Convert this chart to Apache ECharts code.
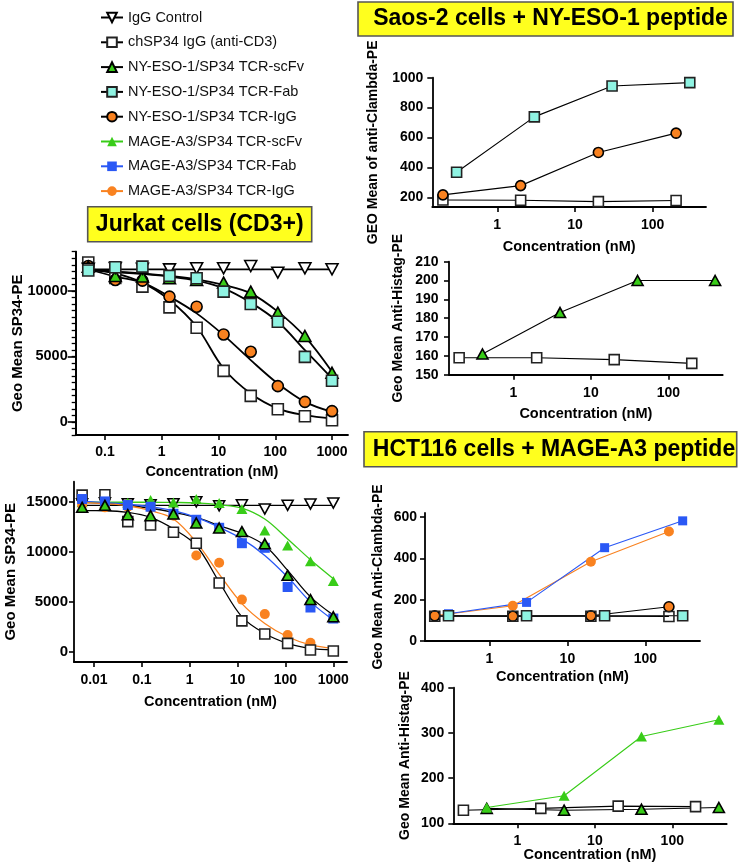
<!DOCTYPE html>
<html>
<head>
<meta charset="utf-8">
<script src="https://cdn.jsdelivr.net/npm/echarts@6/dist/echarts.min.js"></script>
<style>html,body{margin:0;padding:0;background:#fff}#c{width:738px;height:867px}</style>
</head>
<body>
<div id="c"></div>
<script>
// ---------------- DATA ----------------
const seriesNames = ['IgG Control','chSP34 IgG (anti-CD3)','NY-ESO-1/SP34 TCR-scFv','NY-ESO-1/SP34 TCR-Fab','NY-ESO-1/SP34 TCR-IgG','MAGE-A3/SP34 TCR-scFv','MAGE-A3/SP34 TCR-Fab','MAGE-A3/SP34 TCR-IgG'];
const panelTitles = ['Jurkat cells (CD3+)','Saos-2 cells + NY-ESO-1 peptide','HCT116 cells + MAGE-A3 peptide'];

// Jurkat, upper panel (concentration nM)
const jurkat1Conc = [0.0508, 0.152, 0.457, 1.37, 4.12, 12.3, 37.0, 111, 333, 1000];
const j1IgG      = [11700, 11750, 11700, 11650, 11730, 11730, 11910, 11400, 11730, 11660];
const j1chSP34   = [12170, 11000, 10330, 8750, 7190, 3900, 1990, 970, 430, 130];
const j1NyScfv   = [11860, 11150, 11100, 10970, 10840, 10640, 9950, 8340, 6560, 3750];
const j1NyFab    = [11560, 11810, 11860, 11150, 10970, 9950, 9010, 7650, 4970, 3140];
const j1NyIgG    = [11910, 10840, 10790, 9570, 8800, 6680, 5360, 2730, 1530, 820];
// fitted curves read at the same concentrations
const j1FitIgG    = [11650, 11650, 11650, 11650, 11650, 11650, 11650, 11650, 11650, 11650];
const j1FitChSP34 = [11660, 11350, 10640, 9310, 7270, 4080, 2170, 1020, 510, 255];
const j1FitNyScfv = [11660, 11480, 11350, 11150, 10890, 10460, 9820, 8420, 6510, 3830];
const j1FitNyFab  = [11660, 11450, 11300, 11100, 10790, 10200, 9110, 7650, 5480, 3320];
const j1FitNyIgG  = [11660, 11100, 10640, 9570, 8290, 6630, 4720, 2930, 1530, 765];

// Jurkat, lower panel
const jurkat2Conc = [0.00565, 0.0169, 0.0508, 0.152, 0.457, 1.37, 4.12, 12.3, 37.0, 111, 333, 1000];
const j2IgG      = [14800, 14900, 14800, 14700, 14800, 15000, 14600, 14700, 14270, 14640, 14770, 14870];
const j2chSP34   = [15660, 15700, 13010, 12680, 11950, 10860, 6890, 3110, 1790, 860, 200, 100];
const j2NyScfv   = [14440, 14640, 13710, 13610, 13780, 12880, 12380, 12020, 10800, 7650, 5230, 3510];
const j2MgScfv   = [14950, 14900, 14900, 15170, 14930, 15270, 14870, 14270, 12120, 10630, 9070, 7090];
const j2MgFab    = [15270, 15030, 14670, 14500, 13800, 13200, 12400, 10860, 10400, 6490, 4440, 3340];
const j2MgIgG    = [14700, 14440, 14500, 14400, 13610, 9640, 8910, 5230, 3780, 1690, 930, 100];
const j2FitIgG    = [14640, 14640, 14640, 14640, 14640, 14640, 14640, 14640, 14640, 14640, 14640, 14640];
const j2FitChSP34 = [14110, 14100, 13940, 13440, 12290, 10630, 6990, 3510, 1850, 860, 360, 200];
const j2FitNyScfv = [14950, 14850, 14650, 14350, 13940, 13440, 12620, 11850, 10630, 8150, 5500, 3680];
const j2FitMgScfv = [14950, 14950, 14950, 14950, 14930, 14880, 14700, 14370, 13280, 11290, 9210, 7320];
const j2FitMgFab  = [15050, 14900, 14750, 14500, 14110, 13440, 12450, 11290, 9640, 7480, 5000, 3180];
const j2FitMgIgG  = [14940, 14800, 14600, 14110, 13280, 10960, 7780, 4830, 2850, 1520, 700, 360];

// right-hand panels
const lowConc  = [0.2, 2, 20, 200];
const fabConc  = [0.3, 3, 30, 300];
const scfvConc = [0.4, 4, 40, 400];
// Saos-2 anti-Clambda
const saosClNyFab  = [367, 738, 944, 967];
const saosClNyIgG  = [216, 278, 500, 629];
const saosClChSP34 = [182, 180, 171, 178];
// Saos-2 anti-Histag
const saosHiNyScfv = [161, 183, 200, 200];
const saosHiChSP34 = [159, 159, 158, 156];
// HCT116 anti-Clambda
const hctClMgFab  = [132, 187, 452, 582];
const hctClMgIgG  = [122, 171, 384, 530];
const hctClChSP34 = [120, 120, 120, 119];
const hctClNyIgG  = [122, 120, 122, 166];
const hctClNyFab  = [122, 122, 122, 122];
// HCT116 anti-Histag
const hctHiMgScfv  = [135, 161, 292, 329];
const hctHiNyScfv  = [133, 129, 131, 135];
const hctHiChSP34  = [129, 133, 138, 137];

// tick labels
const xTicksA = [0.1, 1, 10, 100, 1000];
const xTicksB = [0.01, 0.1, 1, 10, 100, 1000];
const xTicksR = [1, 10, 100];
const yTicksA = [0, 5000, 10000];
const yTicksB = [0, 5000, 10000, 15000];
const yTicksC = [200, 400, 600, 800, 1000];
const yTicksE = [0, 200, 400, 600];

// ---------------- STYLE ----------------
const FONT = 'Liberation Sans, Arial, Helvetica, sans-serif';
const DOWN = 'path://M0,0L10,0L5,9Z';
const GREEN = '#38cc18', CYAN = '#8ff3e2', ORANGE = '#f98220', BLUE = '#2a58f5';
const ST = {};
ST[seriesNames[0]] = {symbol: DOWN, fill: '#fff', border: '#000', line: '#000'};
ST[seriesNames[1]] = {symbol: 'rect', fill: '#fff', border: '#222', line: '#000'};
ST[seriesNames[2]] = {symbol: 'triangle', fill: GREEN, border: '#000', line: '#000'};
ST[seriesNames[3]] = {symbol: 'rect', fill: CYAN, border: '#222', line: '#000'};
ST[seriesNames[4]] = {symbol: 'circle', fill: ORANGE, border: '#000', line: '#000'};
ST[seriesNames[5]] = {symbol: 'triangle', fill: GREEN, border: null, line: GREEN};
ST[seriesNames[6]] = {symbol: 'rect', fill: BLUE, border: null, line: BLUE};
ST[seriesNames[7]] = {symbol: 'circle', fill: ORANGE, border: null, line: ORANGE};

function pairs(xs, ys) { return xs.map((x, i) => [x, ys[i]]); }
function symOpts(name, size, fillOverride) {
  const st = ST[name];
  return {
    symbol: st.symbol,
    symbolSize: st.symbol === DOWN ? [size + 1, size] : (st.symbol === 'triangle' ? [size + 1, size] : size),
    itemStyle: {color: fillOverride || st.fill, borderColor: st.border || st.fill, borderWidth: st.border ? 1.6 : 0, opacity: 1}
  };
}
function scatter(name, idx, xs, ys, size, z) {
  return Object.assign({type: 'scatter', name, xAxisIndex: idx, yAxisIndex: idx, data: pairs(xs, ys), z: z || 3, silent: true}, symOpts(name, size));
}
function curve(name, idx, xs, ys, w) {
  return {type: 'line', name, xAxisIndex: idx, yAxisIndex: idx, data: pairs(xs, ys), smooth: 0.35, showSymbol: false, symbol: 'none', z: 2, silent: true,
    lineStyle: {color: ST[name].line, width: w}};
}
function linked(name, idx, xs, ys, size, fillOverride) {
  return Object.assign({type: 'line', name, xAxisIndex: idx, yAxisIndex: idx, data: pairs(xs, ys), z: 3, silent: true,
    showSymbol: true, lineStyle: {color: ST[name].line, width: 1.1}}, symOpts(name, size, fillOverride));
}

const txt = {fontFamily: FONT, fontWeight: 'bold', color: '#000'};
function fmtLog(v) { return v >= 1 ? String(Math.round(v)) : String(+Number(v).toPrecision(1)); }
function fmtVal(v) { return String(v); }
function xLog(idx, min, max, ticks, margin, gap) {
  return {type: 'log', logBase: 10, gridIndex: idx, min, max,
    axisLine: {show: true, onZero: false, lineStyle: {color: '#000', width: 1.8}},
    axisTick: {show: true, customValues: ticks, length: 5, lineStyle: {color: '#000', width: 1.6}},
    axisLabel: Object.assign({customValues: ticks, formatter: fmtLog, fontSize: 14, margin}, txt),
    minorTick: {show: false}, splitLine: {show: false},
    name: 'Concentration (nM)', nameLocation: 'middle', nameGap: gap, nameMoveOverlap: false,
    nameTextStyle: Object.assign({fontSize: 14.5}, txt)};
}
function yVal(idx, min, max, ticks, interval, margin, name, gap, tickLen) {
  const a = {type: 'value', gridIndex: idx, min, max, position: 'left',
    axisLine: {show: true, onZero: false, lineStyle: {color: '#000', width: 1.8}},
    axisTick: {show: true, length: tickLen || 5, lineStyle: {color: '#000', width: 1.6}},
    axisLabel: Object.assign({fontSize: 14, margin, formatter: fmtVal}, txt),
    splitLine: {show: false},
    name, nameLocation: 'middle', nameGap: gap, nameRotate: 90, nameMoveOverlap: false,
    nameTextStyle: Object.assign({fontSize: 14}, txt)};
  if (interval) { a.interval = interval; } else { a.axisTick.customValues = ticks; a.axisLabel.customValues = ticks; }
  return a;
}

const N = seriesNames;
const series = [];
// legend-only series
N.forEach(n => series.push(Object.assign({type: 'line', name: n, xAxisIndex: 0, yAxisIndex: 0, data: [],
  lineStyle: {color: ST[n].line, width: 1.6}}, symOpts(n, 11))));

// Panel A (Jurkat upper)
series.push(curve(N[0], 0, jurkat1Conc, j1FitIgG, 1.8));
series.push(curve(N[1], 0, jurkat1Conc, j1FitChSP34, 1.8));
series.push(curve(N[4], 0, jurkat1Conc, j1FitNyIgG, 1.8));
series.push(curve(N[2], 0, jurkat1Conc, j1FitNyScfv, 1.8));
series.push(curve(N[3], 0, jurkat1Conc, j1FitNyFab, 1.8));
series.push(scatter(N[1], 0, jurkat1Conc, j1chSP34, 11, 3));
series.push(scatter(N[4], 0, jurkat1Conc, j1NyIgG, 11, 4));
series.push(scatter(N[2], 0, jurkat1Conc, j1NyScfv, 11, 5));
series.push(scatter(N[0], 0, jurkat1Conc, j1IgG, 11, 5));
series.push(scatter(N[3], 0, jurkat1Conc, j1NyFab, 11, 6));

// Panel B (Jurkat lower)
series.push(curve(N[0], 1, jurkat2Conc, j2FitIgG, 1.3));
series.push(curve(N[1], 1, jurkat2Conc, j2FitChSP34, 1.3));
series.push(curve(N[2], 1, jurkat2Conc, j2FitNyScfv, 1.3));
series.push(curve(N[5], 1, jurkat2Conc, j2FitMgScfv, 1.3));
series.push(curve(N[6], 1, jurkat2Conc, j2FitMgFab, 1.3));
series.push(curve(N[7], 1, jurkat2Conc, j2FitMgIgG, 1.3));
series.push(scatter(N[0], 1, jurkat2Conc, j2IgG, 10, 3));
series.push(scatter(N[5], 1, jurkat2Conc, j2MgScfv, 10, 3));
series.push(scatter(N[7], 1, jurkat2Conc, j2MgIgG, 10, 4));
series.push(scatter(N[1], 1, jurkat2Conc, j2chSP34, 10, 4));
series.push(scatter(N[6], 1, jurkat2Conc, j2MgFab, 10, 4));
series.push(scatter(N[2], 1, jurkat2Conc, j2NyScfv, 10, 5));

// Panel C (Saos-2 anti-Clambda)
series.push(linked(N[1], 2, lowConc, saosClChSP34, 10));
series.push(linked(N[4], 2, lowConc, saosClNyIgG, 10));
series.push(linked(N[3], 2, fabConc, saosClNyFab, 10));
// Panel D (Saos-2 anti-Histag)
series.push(linked(N[1], 3, lowConc, saosHiChSP34, 10));
series.push(linked(N[2], 3, scfvConc, saosHiNyScfv, 10));
// Panel E (HCT116 anti-Clambda)
series.push(linked(N[7], 4, lowConc, hctClMgIgG, 10));
series.push(linked(N[6], 4, fabConc, hctClMgFab, 9));
series.push(linked(N[4], 4, lowConc, hctClNyIgG, 10));
series.push(linked(N[1], 4, lowConc, hctClChSP34, 10, 'rgba(255,255,255,0)'));
series.push(linked(N[3], 4, fabConc, hctClNyFab, 10));
// Panel F (HCT116 anti-Histag)
series.push(linked(N[1], 5, lowConc, hctHiChSP34, 10));
series.push(linked(N[2], 5, scfvConc, hctHiNyScfv, 10));
series.push(linked(N[5], 5, scfvConc, hctHiMgScfv, 10));

function titleBox(x, y, w, h, cx, text) {
  return {type: 'group', children: [
    {type: 'rect', shape: {x, y, width: w, height: h}, style: {fill: '#ffff1e', stroke: '#555', lineWidth: 1.6}},
    {type: 'text', x: cx, y: y + h / 2, style: {text, fill: '#000', font: 'bold 23px ' + FONT, textAlign: 'center', textVerticalAlign: 'middle'}}
  ]};
}

const grids = [
  {left: 75.7, top: 251.7, width: 272.3, height: 183.3},
  {left: 74, top: 481.7, width: 273, height: 180.3},
  {left: 432.3, top: 77.7, width: 273.7, height: 129.3},
  {left: 449, top: 261.7, width: 273.7, height: 113},
  {left: 425, top: 513, width: 275, height: 128},
  {left: 453.3, top: 687.7, width: 273.4, height: 135.6}
].map(g => Object.assign({outerBoundsMode: 'none', containLabel: false}, g));

// minor ticks of the upper Jurkat panel (drawn on the same left edge)
const minorA = {type: 'value', gridIndex: 0, min: -1000, max: 13000, interval: 500, position: 'left', offset: 0,
  axisLine: {show: true, onZero: false, lineStyle: {color: '#000', width: 1.8}},
  axisLabel: {show: false}, splitLine: {show: false},
  axisTick: {show: true, length: 4, lineStyle: {color: '#000', width: 1.3}}};

const option = {
  backgroundColor: '#fff',
  animation: false,
  grid: grids,
  legend: {orient: 'vertical', left: 95, top: 5, itemWidth: 22, itemHeight: 12, itemGap: 9.8, selectedMode: false,
    data: N, textStyle: {fontFamily: FONT, fontSize: 14.5, color: '#111'}},
  xAxis: [
    xLog(0, 0.0305, 1913, xTicksA, 10, 29),
    xLog(1, 0.00382, 1931, xTicksB, 11.5, 32.5),
    xLog(2, 0.146, 485, xTicksR, 11.5, 32.5),
    xLog(3, 0.148, 501, xTicksR, 11, 32),
    xLog(4, 0.15, 500, xTicksR, 11, 28),
    xLog(5, 0.148, 505, xTicksR, 10.5, 24.5)
  ],
  yAxis: [
    yVal(0, -1000, 13000, yTicksA, null, 8, 'Geo Mean SP34-PE', 50, 8),
    yVal(1, -1000, 17000, yTicksB, null, 6, 'Geo Mean SP34-PE', 56),
    yVal(2, 135, 1000, yTicksC, null, 9, 'GEO Mean of anti-Clambda-PE', 52),
    yVal(3, 150, 210, null, 10, 10.5, 'Geo Mean Anti-Histag-PE', 44),
    yVal(4, 0, 620, yTicksE, null, 8, 'Geo Mean Anti-Clambda-PE', 40),
    yVal(5, 100, 400, null, 100, 9, 'Geo Mean Anti-Histag-PE', 41.5),
    minorA
  ],
  series,
  graphic: [
    titleBox(87.7, 206.7, 224, 35, 199.7, panelTitles[0]),
    titleBox(358, 2, 375, 34, 550.5, panelTitles[1]),
    titleBox(364, 431.7, 372.7, 35, 554, panelTitles[2])
  ]
};
option.yAxis[0].nameTextStyle.fontSize = 15;
option.yAxis[1].nameTextStyle.fontSize = 15;
option.yAxis[0].axisLabel.fontSize = 14.5;
option.yAxis[1].axisLabel.fontSize = 15;

const chart = echarts.init(document.getElementById('c'), null, {renderer: 'canvas'});
chart.setOption(option);
</script>
</body>
</html>
